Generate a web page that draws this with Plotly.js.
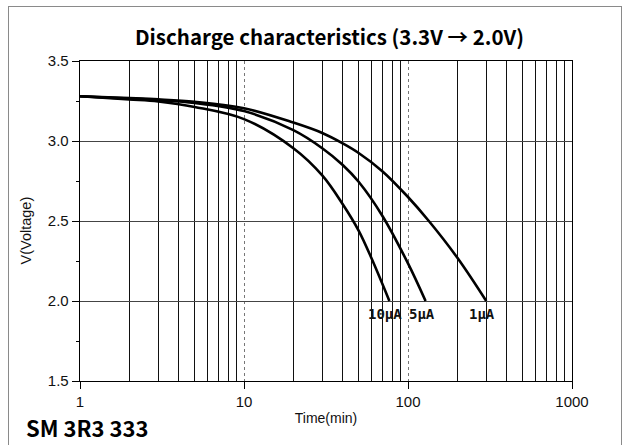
<!DOCTYPE html>
<html>
<head>
<meta charset="utf-8">
<script src="https://cdn.plot.ly/plotly-3.0.1.min.js"></script>
<style>
  html, body { margin: 0; padding: 0; background: #fff; }
  #wrap { position: relative; width: 630px; height: 445px; overflow: hidden; }
  #chart { width: 630px; height: 445px; }
  #frame { position: absolute; left: 8px; top: 6px; width: 614px; height: 460px;
           border: 1px solid #8a8a8a; pointer-events: none; box-sizing: border-box; }
</style>
</head>
<body>
<div id="wrap">
  <div id="chart"></div>
  <div id="frame"></div>
</div>
<script>
// ---- data ----
const time1uA  = [1, 2, 3, 5, 10, 20, 30, 40, 50, 70, 100, 134, 200, 300];
const volt1uA  = [3.28, 3.268, 3.26, 3.245, 3.205, 3.115, 3.05, 2.985, 2.925, 2.81, 2.65, 2.5, 2.27, 2.0];

const time5uA  = [1, 2, 3, 5, 10, 20, 30, 40, 50, 70, 100, 128];
const volt5uA  = [3.28, 3.265, 3.255, 3.238, 3.187, 3.068, 2.955, 2.85, 2.745, 2.53, 2.235, 2.0];

const time10uA = [1, 2, 3, 5, 10, 20, 30, 40, 50, 60, 77];
const volt10uA = [3.28, 3.26, 3.247, 3.213, 3.137, 2.955, 2.785, 2.605, 2.44, 2.265, 2.0];

const seriesNames = ['1μA', '5μA', '10μA'];
const xMajorTicks = [1, 10, 100, 1000];
const xMinorTicks = [2,3,4,5,6,7,8,9, 20,30,40,50,60,70,80,90, 200,300,400,500,600,700,800,900];
const yTicks = [1.5, 2.0, 2.5, 3.0, 3.5];
const titleText = 'Discharge characteristics (3.3V → 2.0V)';
const modelText = 'SM 3R3 333';
const xTitle = 'Time(min)';
const yTitle = 'V(Voltage)';

const series = [
  {x: time1uA,  y: volt1uA,  name: seriesNames[0]},
  {x: time5uA,  y: volt5uA,  name: seriesNames[1]},
  {x: time10uA, y: volt10uA, name: seriesNames[2]}
];

const traces = series.map(s => ({
  x: s.x, y: s.y, name: s.name, type: 'scatter', mode: 'lines',
  line: {color: '#000', width: 2.6, shape: 'spline', smoothing: 1},
  hoverinfo: 'skip'
}));

const tickFont = {family: 'Liberation Sans, Arial, sans-serif', size: 15, color: '#111'};
const labelFont = {family: 'DejaVu Sans Mono, monospace', size: 14, color: '#111', weight: 'bold'};

const curveLabels = series.map(s => ({
  x: Math.log10(s.x[s.x.length - 1]), y: s.y[s.y.length - 1],
  xref: 'x', yref: 'y', text: s.name, showarrow: false,
  xanchor: 'center', yanchor: 'middle', xshift: -4, yshift: -13,
  font: labelFont
}));

const layout = {
  width: 630, height: 445,
  margin: {l: 80, r: 58, t: 61, b: 64, pad: 0},
  paper_bgcolor: '#fff', plot_bgcolor: '#fff',
  showlegend: false,
  title: {
    text: titleText, xref: 'container', yref: 'container',
    x: 0.523, xanchor: 'center', y: 0.915, yanchor: 'middle',
    font: {family: 'Noto Sans CJK KR, Noto Sans, sans-serif', size: 20.5, color: '#000', weight: 'bold'}
  },
  xaxis: {
    type: 'log', range: [0, 3],
    tickmode: 'array', tickvals: xMajorTicks, ticktext: xMajorTicks.map(String),
    ticks: 'outside', ticklen: 7, tickcolor: '#000', tickwidth: 1,
    tickfont: tickFont,
    showgrid: true, gridcolor: '#777', gridwidth: 1, griddash: 'dot',
    minor: {tickmode: 'array', tickvals: xMinorTicks, ticks: '', showgrid: true,
            gridcolor: '#111', gridwidth: 1, griddash: 'solid'},
    showline: true, linecolor: '#000', linewidth: 1.3, mirror: true,
    zeroline: false, fixedrange: true,
    title: {text: xTitle, font: {family: 'Liberation Sans, Arial, sans-serif', size: 14, color: '#111'}, standoff: 4}
  },
  yaxis: {
    range: [1.5, 3.5],
    tickmode: 'array', tickvals: yTicks, ticktext: yTicks.map(v => v.toFixed(1)),
    ticks: 'outside', ticklen: 7, tickcolor: '#000', tickwidth: 1,
    tickfont: tickFont,
    showgrid: true, gridcolor: '#444', gridwidth: 1,
    minor: {dtick: 0.25, tick0: 1.5, ticks: 'outside', ticklen: 3, tickcolor: '#000', showgrid: false},
    showline: true, linecolor: '#000', linewidth: 1.3, mirror: true,
    zeroline: false, fixedrange: true
  },
  annotations: curveLabels.concat([
    {text: yTitle, xref: 'paper', yref: 'paper', x: -0.11, y: 0.47, textangle: -90,
     showarrow: false, xanchor: 'center', yanchor: 'middle',
     font: {family: 'Liberation Sans, Arial, sans-serif', size: 14.5, color: '#111'}},
    {text: modelText, xref: 'paper', yref: 'paper', x: -0.114, y: -0.144,
     showarrow: false, xanchor: 'left', yanchor: 'middle',
     font: {family: 'Noto Sans CJK KR, Noto Sans, sans-serif', size: 22, color: '#000', weight: 'bold'}}
  ])
};

Plotly.newPlot('chart', traces, layout, {displayModeBar: false, staticPlot: true});
</script>
</body>
</html>
